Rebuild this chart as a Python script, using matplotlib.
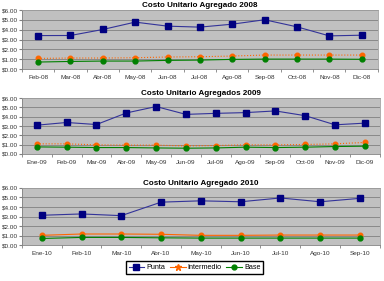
import matplotlib
matplotlib.use("Agg")
import matplotlib.pyplot as plt
from matplotlib.lines import Line2D

plt.rcParams['font.family'] = ['Liberation Sans', 'DejaVu Sans']

cats_2008 = ["Feb-08", "Mar-08", "Abr-08", "May-08", "Jun-08", "Jul-08", "Ago-08",
             "Sep-08", "Oct-08", "Nov-08", "Dic-08"]
punta_2008 = [3.41, 3.42, 4.03, 4.78, 4.37, 4.27, 4.57, 5.02, 4.30, 3.38, 3.45]
inter_2008 = [1.09, 1.13, 1.13, 1.16, 1.23, 1.26, 1.33, 1.43, 1.43, 1.43, 1.43]
base_2008 = [0.72, 0.78, 0.82, 0.82, 0.89, 0.92, 0.99, 1.02, 1.02, 1.02, 1.00]

cats_2009 = ["Ene-09", "Feb-09", "Mar-09", "Abr-09", "May-09", "Jun-09", "Jul-09",
             "Ago-09", "Sep-09", "Oct-09", "Nov-09", "Dic-09"]
punta_2009 = [3.09, 3.38, 3.16, 4.40, 5.09, 4.25, 4.36, 4.44, 4.62, 4.11, 3.13, 3.31]
inter_2009 = [1.09, 1.09, 0.98, 0.95, 0.95, 0.87, 0.91, 0.98, 0.98, 1.02, 1.09, 1.24]
base_2009 = [0.76, 0.73, 0.69, 0.69, 0.65, 0.62, 0.65, 0.73, 0.69, 0.73, 0.80, 0.84]

cats_2010 = ["Ene-10", "Feb-10", "Mar-10", "Abr-10", "May-10", "Jun-10", "Jul-10",
             "Ago-10", "Sep-10"]
punta_2010 = [3.13, 3.27, 3.09, 4.51, 4.65, 4.55, 4.95, 4.55, 4.91]
inter_2010 = [1.02, 1.16, 1.16, 1.13, 1.02, 1.02, 1.05, 1.05, 1.05]
base_2010 = [0.69, 0.80, 0.80, 0.76, 0.73, 0.73, 0.73, 0.73, 0.73]

titles = ["Costo Unitario Agregado 2008", "Costo Unitario Agregados 2009",
          "Costo Unitario Agregado 2010"]
yticks = [0, 1, 2, 3, 4, 5, 6]
series_names = ["Punta", "Intermedio", "Base"]

PUNTA_LINE = "#333399"
PUNTA_MK = "#000080"
INTER = "#FF6600"
BASE = "#008000"

fig = plt.figure(figsize=(3.84, 2.81), dpi=100)

boxes = [(0.057, 0.754, 0.927, 0.210),
         (0.057, 0.452, 0.932, 0.199),
         (0.057, 0.128, 0.932, 0.203)]
datasets = [(cats_2008, punta_2008, inter_2008, base_2008, ":"),
            (cats_2009, punta_2009, inter_2009, base_2009, ":"),
            (cats_2010, punta_2010, inter_2010, base_2010, "-")]

for box, (cats, p, i, b, ils), title in zip(boxes, datasets, titles):
    ax = fig.add_axes(box)
    ax.set_facecolor("#C0C0C0")
    x = list(range(len(cats)))
    ax.plot(x, p, color=PUNTA_LINE, lw=0.8, marker="s", ms=4,
            mfc=PUNTA_MK, mec=PUNTA_MK, zorder=3)
    ax.plot(x, i, color=INTER, lw=0.8, ls=ils, marker="o", ms=3.3,
            mfc=INTER, mec=INTER, zorder=3)
    ax.plot(x, b, color=BASE, lw=0.8, marker="o", ms=3.5,
            mfc=BASE, mec=BASE, zorder=3)
    ax.set_xlim(-0.5, len(cats) - 0.5)
    ax.set_ylim(0, 6)
    ax.set_yticks(yticks)
    ax.set_yticklabels([f"${v:.2f}" for v in yticks])
    ax.set_xticks(x)
    ax.set_xticklabels(cats)
    ax.set_xticks([k + 0.5 for k in range(-1, len(cats))], minor=True)
    ax.tick_params(axis="x", which="major", length=0, labelsize=4.6,
                   pad=4, colors="#333333")
    ax.tick_params(axis="x", which="minor", length=2, color="#808080")
    ax.tick_params(axis="y", length=2, labelsize=4.6, pad=1,
                   colors="#333333")
    ax.tick_params(axis="y", color="#808080")
    ax.grid(axis="y", color="#808080", lw=0.6)
    ax.set_axisbelow(True)
    for side in ["top", "right"]:
        ax.spines[side].set_color("#A0A0A0")
        ax.spines[side].set_linewidth(0.6)
    for side in ["left", "bottom"]:
        ax.spines[side].set_color("#808080")
        ax.spines[side].set_linewidth(0.6)
    ax.set_title(title, fontsize=5.8, fontweight="bold", pad=2.5)

handles = [Line2D([], [], color=PUNTA_LINE, lw=0.8, marker="s", ms=4,
                  mfc=PUNTA_MK, mec=PUNTA_MK),
           Line2D([], [], color=INTER, lw=0.8, marker="*", ms=4.5,
                  mfc=INTER, mec=INTER),
           Line2D([], [], color=BASE, lw=0.8, marker="o", ms=3.5,
                  mfc=BASE, mec=BASE)]
fig.legend(handles, series_names, loc="center", bbox_to_anchor=(0.507, 0.048),
           ncol=3, fontsize=5.2, frameon=True, fancybox=False,
           edgecolor="#000000", handlelength=2.2, handletextpad=0.3,
           columnspacing=0.6, borderpad=0.35, framealpha=1)

fig.savefig("out.png", dpi=100)
